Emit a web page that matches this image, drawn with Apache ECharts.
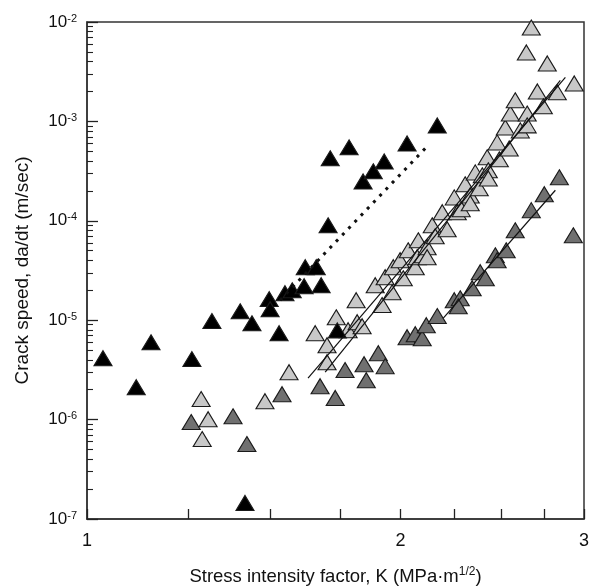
<!DOCTYPE html>
<html>
<head>
<meta charset="utf-8">
<script src="https://cdn.jsdelivr.net/npm/echarts@6.0.0/dist/echarts.min.js"></script>
<style>
html, body { margin: 0; padding: 0; background: #fff; }
#chart { width: 590px; height: 587px; }
</style>
</head>
<body>
<div id="chart"></div>
<script>
// axis ticks / labels
var xTickValues = [1, 1.25, 1.5, 1.75, 2, 2.25, 2.5, 2.75, 3];
var xLabelValues = [1, 2, 3];
var yDecades = [1e-7, 1e-6, 1e-5, 1e-4, 1e-3, 1e-2];

// [K (MPa·m^1/2), da/dt (m/sec)]
var blackPts = [
    [1.036, 4.15e-6], [1.115, 2.12e-6], [1.152, 6.0e-6], [1.261, 4.06e-6], [1.318, 9.8e-6],
    [1.403, 1.23e-5], [1.440, 9.3e-6], [1.496, 1.63e-5], [1.499, 1.29e-5], [1.529, 7.4e-6],
    [1.418, 1.45e-7], [1.549, 1.87e-5], [1.574, 2.0e-5], [1.616, 2.2e-5], [1.678, 2.25e-5],
    [1.620, 3.41e-5], [1.660, 3.41e-5], [1.704, 9.0e-5], [1.712, 4.25e-4], [1.785, 5.48e-4],
    [1.841, 2.49e-4], [1.883, 3.15e-4], [1.929, 3.96e-4], [2.029, 6.01e-4], [2.169, 9.1e-4],
    [1.739, 7.9e-6]
];
var lightPts = [
    [1.287, 1.61e-6], [1.307, 1.01e-6], [1.290, 6.37e-7], [1.482, 1.53e-6], [1.563, 3.0e-6],
    [1.656, 7.40e-6], [1.700, 5.61e-6], [1.700, 3.78e-6], [1.735, 1.07e-5], [1.781, 7.93e-6],
    [1.813, 1.59e-5], [1.817, 9.55e-6], [1.837, 8.70e-6], [1.891, 2.25e-5], [1.920, 1.42e-5],
    [1.933, 2.71e-5], [1.963, 1.91e-5], [1.968, 3.41e-5], [1.998, 4.01e-5], [2.012, 2.64e-5],
    [2.034, 5.05e-5], [2.066, 3.41e-5], [2.075, 4.30e-5], [2.080, 6.37e-5], [2.103, 4.50e-5],
    [2.121, 5.42e-5], [2.121, 4.30e-5], [2.145, 9.0e-5], [2.159, 6.99e-5], [2.193, 1.22e-4],
    [2.217, 8.22e-5], [2.252, 1.72e-4], [2.267, 1.22e-4], [2.287, 1.31e-4], [2.307, 2.33e-4],
    [2.333, 1.80e-4], [2.333, 1.50e-4], [2.359, 3.07e-4], [2.380, 2.12e-4], [2.396, 2.87e-4],
    [2.422, 4.35e-4], [2.428, 3.22e-4], [2.428, 2.67e-4], [2.476, 6.15e-4], [2.488, 4.15e-4],
    [2.521, 8.70e-4], [2.543, 5.35e-4], [2.549, 1.20e-3], [2.577, 1.63e-3], [2.606, 8.12e-4],
    [2.646, 1.20e-3], [2.646, 9.12e-4], [2.670, 8.8e-3], [2.641, 4.94e-3], [2.706, 2.0e-3],
    [2.742, 1.42e-3], [2.766, 3.83e-3], [2.828, 1.96e-3], [2.936, 2.41e-3]
];
var darkPts = [
    [1.259, 9.44e-7], [1.381, 1.08e-6], [1.424, 5.67e-7], [1.539, 1.80e-6], [1.674, 2.17e-6],
    [1.731, 1.65e-6], [1.769, 3.15e-6], [1.845, 3.61e-6], [1.854, 2.49e-6], [1.904, 4.66e-6],
    [1.933, 3.45e-6], [2.029, 6.75e-6], [2.066, 7.23e-6], [2.098, 6.59e-6], [2.117, 8.9e-6],
    [2.169, 1.10e-5], [2.252, 1.59e-5], [2.282, 1.66e-5], [2.272, 1.38e-5], [2.343, 2.10e-5],
    [2.385, 3.04e-5], [2.412, 2.64e-5], [2.466, 4.50e-5], [2.476, 4.01e-5], [2.526, 5.05e-5],
    [2.577, 8.03e-5], [2.670, 1.28e-4], [2.748, 1.85e-4], [2.841, 2.74e-4], [2.930, 7.15e-5]
];

// fit lines (end points)
var blackFit = [[1.532, 1.59e-5], [2.121, 5.61e-4]];
var lightFitA = [[1.630, 2.61e-6], [2.879, 2.77e-3]];
var lightFitB = [[1.693, 3.0e-6], [2.847, 2.58e-3]];
var darkFit = [[2.198, 1.05e-5], [2.816, 2.03e-4]];

// minor ticks 2..9 of each decade
var yMinorValues = [];
for (var d = 0; d < yDecades.length - 1; d++) {
    for (var m = 2; m < 10; m++) {
        yMinorValues.push(+(yDecades[d] * m).toPrecision(3));
    }
}

var font = 'Liberation Sans';
var tickColor = '#222';

function triSeries(data, fill) {
    return {
        type: 'scatter',
        data: data,
        symbol: 'triangle',
        symbolSize: [18, 15],
        itemStyle: { color: fill, borderColor: '#1a1a1a', borderWidth: 1.1, opacity: 1 },
        z: 2
    };
}

function fitSeries(data, dotted) {
    return {
        type: 'line',
        data: data,
        symbol: 'none',
        silent: true,
        lineStyle: {
            color: '#111',
            width: dotted ? 3 : 1.2,
            type: dotted ? [3, 6] : 'solid'
        },
        z: 5
    };
}

var chart = echarts.init(document.getElementById('chart'), null, { renderer: 'canvas' });

chart.setOption({
    animation: false,
    backgroundColor: '#fff',
    textStyle: { fontFamily: font },
    grid: {
        left: 87, right: 6, top: 22, bottom: 68,
        outerBoundsMode: 'none',
        containLabel: false,
        show: true, borderColor: '#333', borderWidth: 1.5
    },
    xAxis: [{
        type: 'log',
        logBase: 10,
        min: 1,
        max: 3,
        name: '{n|Stress intensity factor, K (MPa·m}{s|1/2}{n|)}',
        nameLocation: 'middle',
        nameGap: 47,
        nameTextStyle: {
            rich: {
                n: { fontFamily: font, fontSize: 18.5, color: '#111', lineHeight: 22 },
                s: { fontFamily: font, fontSize: 12, color: '#111', lineHeight: 12, verticalAlign: 'top' }
            }
        },
        axisLine: { show: true, onZero: false, lineStyle: { color: '#333', width: 1.5 } },
        axisTick: { show: true, inside: true, length: 10, customValues: xTickValues, lineStyle: { color: tickColor, width: 1.3 } },
        axisLabel: {
            customValues: xLabelValues,
            margin: 13,
            fontFamily: font,
            fontSize: 18,
            color: '#111',
            formatter: function (v) { return String(Math.round(v)); }
        },
        splitLine: { show: false }
    }],
    yAxis: [{
        type: 'log',
        logBase: 10,
        position: 'left',
        min: 1e-7,
        max: 1e-2,
        name: 'Crack speed, da/dt (m/sec)',
        nameLocation: 'middle',
        nameGap: 55,
        nameTextStyle: { fontFamily: font, fontSize: 19, color: '#111' },
        axisLine: { show: true, onZero: false, lineStyle: { color: '#333', width: 1.5 } },
        axisTick: { show: true, inside: true, length: 11, customValues: yDecades, lineStyle: { color: tickColor, width: 1.3 } },
        axisLabel: {
            customValues: yDecades,
            margin: 10,
            formatter: function (v) {
                return '{b|10}{s|' + Math.round(Math.log10(v)) + '}';
            },
            rich: {
                b: { fontFamily: font, fontSize: 17, color: '#111', lineHeight: 18 },
                s: { fontFamily: font, fontSize: 11, color: '#111', lineHeight: 11, verticalAlign: 'top' }
            }
        },
        splitLine: { show: false }
    }, {
        type: 'log',
        logBase: 10,
        position: 'left',
        min: 1e-7,
        max: 1e-2,
        axisLine: { show: false },
        axisTick: { show: true, inside: true, length: 6, customValues: yMinorValues, lineStyle: { color: tickColor, width: 1.1 } },
        axisLabel: { show: false },
        splitLine: { show: false }
    }],
    series: [
        triSeries(darkPts, '#707070'),
        triSeries(lightPts, '#c8c8c8'),
        triSeries(blackPts, '#000'),
        fitSeries(blackFit, true),
        fitSeries(lightFitA, false),
        fitSeries(lightFitB, false),
        fitSeries(darkFit, false)
    ]
});
</script>
</body>
</html>
